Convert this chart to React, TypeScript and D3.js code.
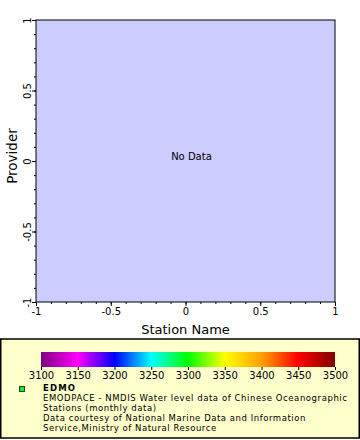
import React, { useEffect, useRef } from 'react';
import * as d3 from 'd3';

const xDomain = [-1, 1];
const yDomain = [-1, 1];
const xTicks = [-1, -0.5, 0, 0.5, 1];
const yTicks = [-1, -0.5, 0, 0.5, 1];
const colorTicks = [3100, 3150, 3200, 3250, 3300, 3350, 3400, 3450, 3500];
const colorStops = ['#800080', '#ff00ff', '#0000ff', '#00ffff', '#00ff00', '#ffff00', '#ffa000', '#ff0000', '#800000'];
const legendTitle = 'EDMO';
const legendLines = [
  'EMODPACE - NMDIS Water level data of Chinese Oceanographic',
  'Stations (monthly data)',
  'Data courtesy of National Marine Data and Information',
  'Service,Ministry of Natural Resource',
];

const FONT = '"DejaVu Sans", sans-serif';

export default function App() {
  const svgRef = useRef<SVGSVGElement | null>(null);

  useEffect(() => {
    if (!svgRef.current) return;
    const svg = d3.select(svgRef.current);
    svg.selectAll('*').remove();

    const plot = { left: 36, top: 20, right: 335, bottom: 302 };

    const x = d3.scaleLinear().domain(xDomain).range([plot.left, plot.right]);
    const y = d3.scaleLinear().domain(yDomain).range([plot.bottom, plot.top]);

    // plot area
    svg.append('rect')
      .attr('x', plot.left)
      .attr('y', plot.top)
      .attr('width', plot.right - plot.left)
      .attr('height', plot.bottom - plot.top)
      .attr('fill', '#ccccff')
      .attr('stroke', '#000')
      .attr('stroke-width', 1);

    svg.append('text')
      .attr('x', x(0.04))
      .attr('y', y(0.01))
      .attr('text-anchor', 'middle')
      .attr('font-family', FONT)
      .attr('font-size', 10)
      .text('No Data');

    // minor ticks
    const minorX = x.ticks(20);
    const minorY = y.ticks(20);
    svg.append('g')
      .attr('transform', `translate(0,${plot.bottom})`)
      .call(d3.axisBottom(x).tickValues(minorX).tickSize(2).tickFormat(() => ''))
      .call(g => g.select('.domain').remove());
    svg.append('g')
      .attr('transform', `translate(${plot.left},0)`)
      .call(d3.axisLeft(y).tickValues(minorY).tickSize(2).tickFormat(() => ''))
      .call(g => g.select('.domain').remove());

    // major axes
    const gx = svg.append('g')
      .attr('transform', `translate(0,${plot.bottom})`)
      .call(d3.axisBottom(x).tickValues(xTicks).tickSize(4).tickPadding(2).tickFormat(d => String(d)));
    gx.select('.domain').remove();
    gx.selectAll('text').attr('font-family', FONT).attr('font-size', 10).attr('fill', '#000');

    const gy = svg.append('g')
      .attr('transform', `translate(${plot.left},0)`)
      .call(d3.axisLeft(y).tickValues(yTicks).tickSize(4).tickFormat(d => String(d)));
    gy.select('.domain').remove();
    gy.selectAll('.tick text')
      .attr('x', null)
      .attr('dy', null)
      .attr('text-anchor', 'middle')
      .attr('transform', 'translate(-5,0) rotate(-90)')
      .attr('font-family', FONT)
      .attr('font-size', 10)
      .attr('fill', '#000');

    svg.append('text')
      .attr('x', (plot.left + plot.right) / 2)
      .attr('y', 334)
      .attr('text-anchor', 'middle')
      .attr('font-family', FONT)
      .attr('font-size', 13)
      .text('Station Name');

    svg.append('text')
      .attr('transform', `translate(17,${(plot.top + plot.bottom) / 2 - 5}) rotate(-90)`)
      .attr('text-anchor', 'middle')
      .attr('font-family', FONT)
      .attr('font-size', 13.5)
      .text('Provider');

    // legend box
    svg.append('rect')
      .attr('x', 0.75)
      .attr('y', 339)
      .attr('width', 358.5)
      .attr('height', 99)
      .attr('fill', '#ffffcc')
      .attr('stroke', '#000')
      .attr('stroke-width', 1.5);

    // colorbar
    const cb = d3.scaleLinear().domain(d3.extent(colorTicks) as [number, number]).range([41, 335]);
    const defs = svg.append('defs');
    const grad = defs.append('linearGradient').attr('id', 'cbar');
    colorStops.forEach((c, i) => {
      grad.append('stop')
        .attr('offset', `${(i / (colorStops.length - 1)) * 100}%`)
        .attr('stop-color', c);
    });
    svg.append('rect')
      .attr('x', cb.range()[0])
      .attr('y', 352)
      .attr('width', cb.range()[1] - cb.range()[0])
      .attr('height', 15)
      .attr('fill', 'url(#cbar)');

    const gc = svg.append('g')
      .attr('transform', 'translate(0,367)')
      .call(d3.axisBottom(cb).tickValues(colorTicks).tickSize(3).tickPadding(2).tickFormat(d => String(d)));
    gc.select('.domain').remove();
    gc.selectAll('text').attr('font-family', FONT).attr('font-size', 10).attr('fill', '#000');

    // legend entry
    svg.append('rect')
      .attr('x', 19.5)
      .attr('y', 386.5)
      .attr('width', 5)
      .attr('height', 5)
      .attr('fill', '#00ff00')
      .attr('stroke', '#333')
      .attr('stroke-width', 1);

    const title = svg.append('text')
      .attr('x', 43)
      .attr('y', 391)
      .attr('font-family', FONT)
      .attr('font-size', 8.5)
      .attr('font-weight', 'bold')
      .text(legendTitle);

    const lines = svg.append('g')
      .selectAll('text')
      .data(legendLines)
      .join('text')
      .attr('x', 43)
      .attr('y', (_, i) => 400.5 + i * 10)
      .attr('font-family', FONT)
      .attr('font-size', 8.5)
      .text(d => d);

    // widen the legend text so the first line spans like the reference (~304px)
    const nodes = lines.nodes() as SVGTextElement[];
    const first = nodes[0].getComputedTextLength();
    const k = first > 0 ? 304 / first : 1;
    nodes.forEach(n => {
      const w = n.getComputedTextLength();
      if (w > 0) {
        n.setAttribute('textLength', String(w * k));
        n.setAttribute('lengthAdjust', 'spacing');
      }
    });
    const tn = title.node() as SVGTextElement;
    const tw = tn.getComputedTextLength();
    if (tw > 0) {
      tn.setAttribute('textLength', String(tw * k));
      tn.setAttribute('lengthAdjust', 'spacing');
    }
  }, []);

  return (
    <svg
      ref={svgRef}
      width={360}
      height={440}
      style={{ position: 'absolute', left: 0, top: 0, background: '#fff' }}
    />
  );
}
